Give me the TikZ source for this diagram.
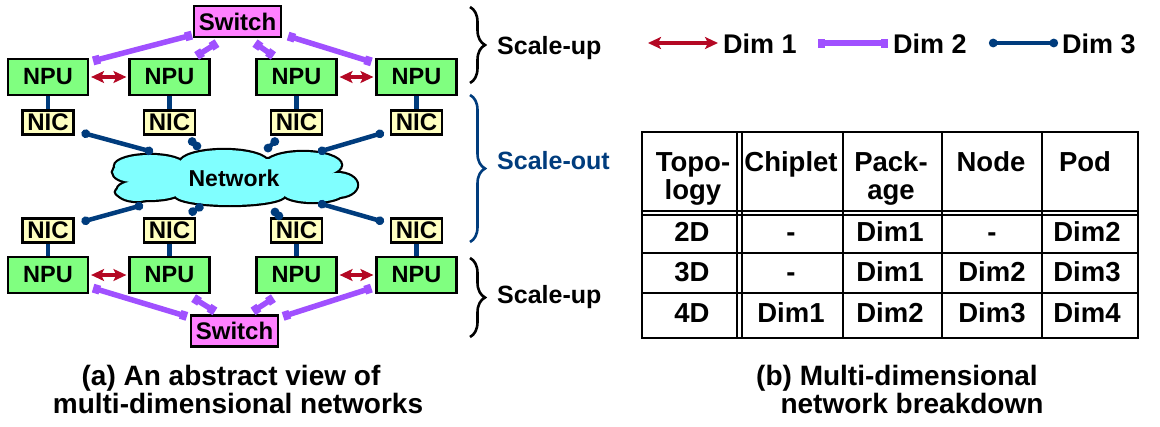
\documentclass[tikz,border=0pt]{standalone}
\usepackage{fontspec}
\setmainfont{Liberation Sans}
\usetikzlibrary{arrows.meta,decorations.pathreplacing}

\definecolor{npugreen}{RGB}{128,255,128}
\definecolor{swpink}{RGB}{255,128,255}
\definecolor{nicyellow}{RGB}{255,255,192}
\definecolor{cloudcyan}{RGB}{128,255,255}
\definecolor{dimred}{RGB}{180,8,36}
\definecolor{dimpurple}{RGB}{160,80,255}
\definecolor{dimblue}{RGB}{0,60,125}

\newcommand\setfs[1]{\fontsize{#1}{#1}\selectfont}

\begin{document}
\begin{tikzpicture}[x=1pt,y=-1pt,
  box/.style={draw=black, line width=2.2pt, inner sep=0pt},
  npubox/.style={box, fill=npugreen, minimum width=80pt, minimum height=36pt, font=\bfseries\setfs{23.5}},
  nicbox/.style={box, fill=nicyellow, minimum width=51pt, minimum height=24pt, font=\bfseries\setfs{24}},
  swbox/.style={box, fill=swpink, minimum width=87pt, minimum height=31pt, font=\bfseries\setfs{24}},
  dimone/.style={draw=dimred, line width=3.8pt, {Stealth[length=13pt,width=12pt,inset=3pt]}-{Stealth[length=13pt,width=12pt,inset=3pt]}},
  dimtwo/.style={draw=dimpurple, line width=5.5pt, {Square[length=7pt,width=9pt]}-{Square[length=7pt,width=9pt]}},
  dimthree/.style={draw=dimblue, line width=4.5pt, {Circle[length=8.5pt]}-{Circle[length=8.5pt]}},
  linkwire/.style={draw=dimblue, line width=4.5pt},
  bracedeco/.style={line width=2.6pt, decorate, decoration={brace, amplitude=15pt}},
  lbl/.style={inner sep=0pt, anchor=base west, font=\bfseries\setfs{25}},
  legtext/.style={inner sep=0pt, anchor=base west, font=\bfseries\setfs{27}},
  cell/.style={inner sep=0pt, anchor=base, font=\bfseries\setfs{27.5}},
  caption/.style={inner sep=0pt, anchor=base, font=\bfseries\setfs{28}},
  tbl/.style={line width=1.6pt}
]
\useasboundingbox (0,0) rectangle (1160,426);

% ---------- upper scale-up domain ----------
\node[swbox] (sw1) at (237.5,21.5) {Switch};
\node[npubox] (npu1) at (48,77) {NPU};
\node[npubox] (npu2) at (169.5,77) {NPU};
\node[npubox] (npu3) at (296.5,77) {NPU};
\node[npubox] (npu4) at (416.5,77) {NPU};
\node[nicbox] (nic1) at (48,122.5) {NIC};
\node[nicbox] (nic2) at (169.5,122.5) {NIC};
\node[nicbox] (nic3) at (296.5,122.5) {NIC};
\node[nicbox] (nic4) at (416.5,122.5) {NIC};

% ---------- lower scale-up domain ----------
\node[nicbox] (nic5) at (48,230.5) {NIC};
\node[nicbox] (nic6) at (169.5,230.5) {NIC};
\node[nicbox] (nic7) at (296.5,230.5) {NIC};
\node[nicbox] (nic8) at (416.5,230.5) {NIC};
\node[npubox] (npu5) at (48,275) {NPU};
\node[npubox] (npu6) at (169.5,275) {NPU};
\node[npubox] (npu7) at (296.5,275) {NPU};
\node[npubox] (npu8) at (416.5,275) {NPU};
\node[swbox] (sw2) at (234.5,331) {Switch};

% ---------- network cloud (outline of a union of ellipses) ----------
\def\cloudparts{235/178/100/20, 150/166/35/11, 224/163/44/13, 303/165/38/13,
  133/172/20/10, 137/191/20/10, 337/185/20/12,
  148/192/32/8, 230/195/55/10, 313/193/30/9}
\foreach \cx/\cy/\rx/\ry in \cloudparts
  \draw[line width=4.4pt] (\cx,\cy) ellipse [x radius=\rx pt, y radius=\ry pt];
\foreach \cx/\cy/\rx/\ry in \cloudparts
  \fill[cloudcyan] (\cx,\cy) ellipse [x radius=\rx pt, y radius=\ry pt];
\node[inner sep=0pt, font=\bfseries\setfs{23}] (net) at (234,178) {Network};

\coordinate (ct1) at (153,152);
\coordinate (ct2) at (200,149);
\coordinate (ct3) at (265,151);
\coordinate (ct4) at (318,152);
\coordinate (cb1) at (143,205);
\coordinate (cb2) at (203,205);
\coordinate (cb3) at (272,209);
\coordinate (cb4) at (318,203);

% ---------- NPU to NIC wires ----------
\foreach \i in {1,...,4} \draw[linkwire] (npu\i.south) -- (nic\i.north);
\foreach \i in {5,...,8} \draw[linkwire] (nic\i.south) -- (npu\i.north);

% ---------- Dim 3: NIC to network ----------
\draw[dimthree] ([shift={(7,-3)}]nic1.south east) -- (ct1);
\draw[dimthree] ([shift={(-7,3)}]nic2.south east) -- (ct2);
\draw[dimthree] ([shift={(8,3)}]nic3.south west) -- (ct3);
\draw[dimthree] ([shift={(-6,-3)}]nic4.south west) -- (ct4);
\draw[dimthree] ([shift={(7,4.5)}]nic5.north east) -- (cb1);
\draw[dimthree] ([shift={(-7,-3.5)}]nic6.north east) -- (cb2);
\draw[dimthree] ([shift={(6,-4.5)}]nic7.north west) -- (cb3);
\draw[dimthree] ([shift={(-6,4.5)}]nic8.north west) -- (cb4);

% ---------- Dim 1: neighbouring NPUs ----------
\draw[dimone, shorten <=2pt, shorten >=2pt] (npu1.east) -- (npu2.west);
\draw[dimone, shorten <=2pt, shorten >=2pt] (npu3.east) -- (npu4.west);
\draw[dimone, shorten <=2pt, shorten >=2pt] (npu5.east) -- (npu6.west);
\draw[dimone, shorten <=2pt, shorten >=2pt] (npu7.east) -- (npu8.west);

% ---------- Dim 2: NPUs to switch ----------
\draw[dimtwo] ([shift={(-1,-3)}]sw1.south west) -- ([shift={(4,3)}]npu1.north east);
\draw[dimtwo] ([shift={(-20.5,5)}]sw1.south) -- ([shift={(-14,-2)}]npu2.north east);
\draw[dimtwo] ([shift={(17.5,5)}]sw1.south) -- ([shift={(18,-2)}]npu3.north west);
\draw[dimtwo] ([shift={(6,-2)}]sw1.south east) -- ([shift={(-4,4)}]npu4.north west);
\draw[dimtwo] ([shift={(4,-6)}]npu5.south east) -- ([shift={(-3,2)}]sw2.north west);
\draw[dimtwo] ([shift={(-17,4)}]npu6.south east) -- ([shift={(-19.5,-3)}]sw2.north);
\draw[dimtwo] ([shift={(18,4)}]npu7.south west) -- ([shift={(18.5,-3)}]sw2.north);
\draw[dimtwo] ([shift={(-4,-6)}]npu8.south west) -- ([shift={(4,2)}]sw2.north east);

% ---------- braces ----------
\draw[bracedeco] (470,7) -- (470,83);
\draw[bracedeco, dimblue] (470,95) -- (470,242);
\draw[bracedeco] (470,258) -- (470,337);
\node[lbl] (su1) at (497,54) {Scale-up};
\node[lbl, text=dimblue] (so) at (497,169) {Scale-out};
\node[lbl] (su2) at (497,303) {Scale-up};

% ---------- legend ----------
\coordinate (l1a) at (648,43); \coordinate (l1b) at (718,43);
\coordinate (l2a) at (818,43); \coordinate (l2b) at (888,43);
\coordinate (l3a) at (989,43); \coordinate (l3b) at (1058,43);
\draw[dimone] (l1a) -- (l1b);
\draw[dimtwo] (l2a) -- (l2b);
\draw[dimthree] (l3a) -- (l3b);
\node[legtext] (d1) at (723,53) {Dim 1};
\node[legtext] (d2) at (893,53) {Dim 2};
\node[legtext] (d3) at (1062,53) {Dim 3};

% ---------- breakdown table ----------
\draw[tbl] (642,132) rectangle (1138,338);
\foreach \x in {737,742,843,942,1042} \draw[tbl] (\x,132) -- (\x,338);
\foreach \y in {211,215,253,293} \draw[tbl] (642,\y) -- (1138,\y);

\node[cell] (h1a) at (693,171) {Topo-};
\node[cell] (h1b) at (693,199) {logy};
\node[cell] (h2) at (791,171) {Chiplet};
\node[cell] (h3a) at (891,171) {Pack-};
\node[cell] (h3b) at (891,199) {age};
\node[cell] (h4) at (991,171) {Node};
\node[cell] (h5) at (1085,171) {Pod};

\foreach \r/\yb/\a/\b/\c/\d/\e in {
  1/241/2D/-/Dim1/-/Dim2,
  2/281/3D/-/Dim1/Dim2/Dim3,
  3/322/4D/Dim1/Dim2/Dim3/Dim4} {
  \node[cell] (r\r c1) at (692,\yb) {\a};
  \node[cell] (r\r c2) at (791,\yb) {\b};
  \node[cell] (r\r c3) at (890,\yb) {\c};
  \node[cell] (r\r c4) at (992,\yb) {\d};
  \node[cell] (r\r c5) at (1087,\yb) {\e};
}

% ---------- captions ----------
\node[caption] (capa1) at (231,385) {(a) An abstract view of};
\node[caption] (capa2) at (238,413) {multi-dimensional networks};
\node[caption] (capb1) at (897,385) {(b) Multi-dimensional};
\node[caption] (capb2) at (912,413) {network breakdown};
\end{tikzpicture}
\end{document}
